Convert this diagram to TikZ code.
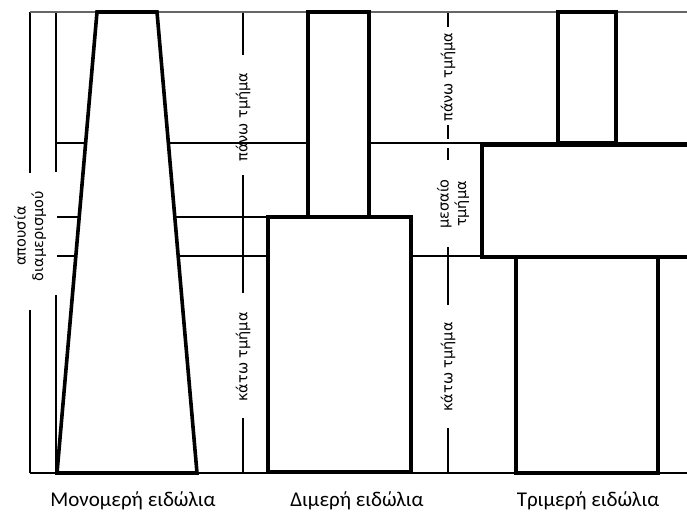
\documentclass[tikz,border=0pt]{standalone}
\usepackage{fontspec}
\setmainfont{Carlito}
\newfontfamily\sidefont{DejaVu Sans}
\begin{document}
\begin{tikzpicture}[x=1pt,y=-1pt,
  thinline/.style={line width=1.2pt,black},
  topline/.style={line width=1.8pt,black!60},
  part/.style={line width=3.6pt,black,fill=white,line join=miter},
  caption/.style={font=\fontsize{21}{24}\selectfont,anchor=base,inner sep=0pt},
  side/.style={font=\sidefont\fontsize{14.5}{17.5}\selectfont,rotate=90,inner sep=0pt,align=center}]
\useasboundingbox (0,0) rectangle (687,513);
\begin{scope}
\clip (0,0) rectangle (687,513);
% frame lines
\draw[thinline] (30,473) -- (687,473);
\draw[thinline] (56,143) -- (687,143);
\draw[thinline] (57,217) -- (268,217);
\draw[thinline] (57,256) -- (482,256);
% left markers
\draw[thinline] (30,12) -- (30,173);
\draw[thinline] (30,310) -- (30,473);
\draw[thinline] (56,12) -- (56,172);
\draw[thinline] (56,295) -- (56,473);
% dimeri markers
\draw[thinline] (243,12) -- (243,55);
\draw[thinline] (243,175) -- (243,293);
\draw[thinline] (243,418) -- (243,473);
% trimeri markers
\draw[thinline] (448,12) -- (448,27);
\draw[thinline] (448,125) -- (448,139);
\draw[thinline] (448,148) -- (448,160);
\draw[thinline] (448,247) -- (448,305);
\draw[thinline] (448,428) -- (448,473);
\draw[topline] (30,12) -- (687,12);
% shapes
\draw[part] (97,12) -- (157,12) -- (197,473) -- (57,473) -- cycle;
\draw[part] (308,12) rectangle (369,217);
\draw[part] (268,217) rectangle (411,472);
\draw[part] (558,12) rectangle (616,143);
\draw[part] (482,145) rectangle (700,257);
\draw[part] (516,257) rectangle (658,473);
\end{scope}
% labels
\node[side] (abs) at (30,236) {απουσία\\διαμερισμού};
\node[side] (d1) at (243,117) {πάνω τμήμα};
\node[side] (d2) at (243,357) {κάτω τμήμα};
\node[side] (t1) at (448,77) {πάνω τμήμα};
\node[side] (t2) at (453,204) {μεσαίο\\τμήμα};
\node[side] (t3) at (448,367) {κάτω τμήμα};
\node[caption] (c1) at (133,506) {Μονομερή ειδώλια};
\node[caption] (c2) at (357,506) {Διμερή ειδώλια};
\node[caption] (c3) at (588,506) {Τριμερή ειδώλια};
\end{tikzpicture}
\end{document}
